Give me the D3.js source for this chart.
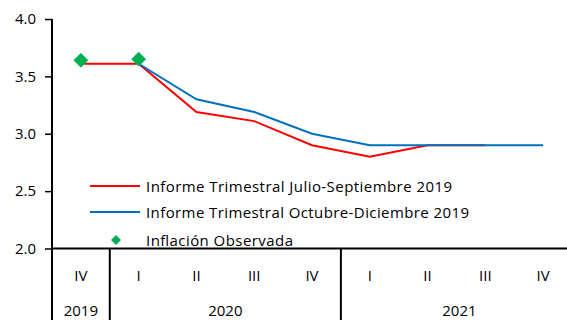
<!DOCTYPE html>
<html>
<head>
<meta charset="utf-8">
<script src="https://cdn.jsdelivr.net/npm/d3@7"></script>
<style>
  html, body { margin: 0; padding: 0; background: #fff; }
  svg text { font-family: "Open Sans", "Liberation Sans", sans-serif; fill: #000; }
</style>
</head>
<body>
<svg id="chart" width="567" height="320"></svg>
<script>
// Quarters shown on the category axis
const quarters = ["IV", "I", "II", "III", "IV", "I", "II", "III", "IV"];
const years = [
  { label: "2019", from: 0, to: 0 },
  { label: "2020", from: 1, to: 4 },
  { label: "2021", from: 5, to: 8 }
];
const yTicks = [2.0, 2.5, 3.0, 3.5, 4.0];

// Inflation forecasts (%), one value per quarter; null where no value
const julSep2019 = [3.61, 3.61, 3.19, 3.11, 2.90, 2.80, 2.90, 2.90, null];
const octDic2019 = [null, 3.61, 3.30, 3.19, 3.00, 2.90, 2.90, 2.90, 2.90];
const observada = [3.64, 3.65, null, null, null, null, null, null, null];

const seriesNames = [
  "Informe Trimestral Julio-Septiembre 2019",
  "Informe Trimestral Octubre-Diciembre 2019",
  "Inflación Observada"
];

const svg = d3.select("#chart");
const plotLeft = 52, plotRight = 572, plotTop = 19, plotBottom = 248.5;
const fontSize = 15;

const x = d3.scaleBand().domain(d3.range(quarters.length)).range([plotLeft, plotRight]).padding(0);
const cx = i => x(i) + x.bandwidth() / 2;
const y = d3.scaleLinear().domain([2, 4]).range([plotBottom, plotTop]);

// Y axis
const yAxis = d3.axisLeft(y).tickValues(yTicks).tickFormat(d3.format(".1f")).tickSize(7).tickPadding(9);
const gy = svg.append("g").attr("transform", `translate(${plotLeft},0)`).call(yAxis);
gy.select(".domain").remove();
gy.selectAll(".tick line").attr("stroke", "#000").attr("stroke-width", 1.5);
gy.selectAll(".tick text").attr("font-size", fontSize).style("font-family", "'Open Sans', sans-serif");
svg.append("line").attr("x1", plotLeft).attr("x2", plotLeft).attr("y1", plotTop).attr("y2", 320)
  .attr("stroke", "#000").attr("stroke-width", 2);

// X axis line
svg.append("line").attr("x1", plotLeft).attr("x2", 567).attr("y1", plotBottom).attr("y2", plotBottom)
  .attr("stroke", "#000").attr("stroke-width", 2);

// Year separators
years.slice(1).forEach(yr => {
  svg.append("line").attr("x1", x(yr.from)).attr("x2", x(yr.from))
    .attr("y1", plotBottom).attr("y2", 320).attr("stroke", "#000").attr("stroke-width", 2);
});

// Quarter labels
svg.append("g").selectAll("text").data(quarters).join("text")
  .attr("x", (d, i) => cx(i)).attr("y", 281).attr("text-anchor", "middle")
  .attr("font-size", fontSize).text(d => d);

// Year labels
svg.append("g").selectAll("text").data(years).join("text")
  .attr("x", d => (x(d.from) + x(d.to) + x.bandwidth()) / 2 + (d.to === quarters.length - 1 ? 3 : 0))
  .attr("y", 316).attr("text-anchor", "middle").attr("font-size", fontSize).text(d => d.label);

// Lines
const line = d3.line().defined(d => d != null).x((d, i) => cx(i)).y(d => y(d));
svg.append("path").datum(julSep2019).attr("d", line)
  .attr("fill", "none").attr("stroke", "#FF0000").attr("stroke-width", 2);
svg.append("path").datum(octDic2019).attr("d", line)
  .attr("fill", "none").attr("stroke", "#0070C0").attr("stroke-width", 2);

// Observed inflation markers
const diamond = d3.symbol().type(d3.symbolSquare).size(110);
svg.append("g").selectAll("path")
  .data(observada.map((v, i) => ({ v, i })).filter(d => d.v != null)).join("path")
  .attr("d", diamond)
  .attr("transform", d => `translate(${cx(d.i)},${y(d.v)}) rotate(45)`)
  .attr("fill", "#00B050");

// Legend
const legend = svg.append("g");
const legY = [186, 212, 240];
const legWidths = [306, 323, 147];
legend.append("line").attr("x1", 90).attr("x2", 140).attr("y1", legY[0]).attr("y2", legY[0])
  .attr("stroke", "#FF0000").attr("stroke-width", 2);
legend.append("line").attr("x1", 90).attr("x2", 140).attr("y1", legY[1]).attr("y2", legY[1])
  .attr("stroke", "#0070C0").attr("stroke-width", 2);
legend.append("path").attr("d", d3.symbol().type(d3.symbolSquare).size(50))
  .attr("transform", `translate(116,${legY[2]}) rotate(45)`).attr("fill", "#00B050");
legend.selectAll("text").data(seriesNames).join("text")
  .attr("x", 146).attr("y", (d, i) => legY[i] + 6)
  .attr("font-size", fontSize)
  .attr("textLength", (d, i) => legWidths[i]).attr("lengthAdjust", "spacing")
  .text(d => d);
</script>
</body>
</html>
